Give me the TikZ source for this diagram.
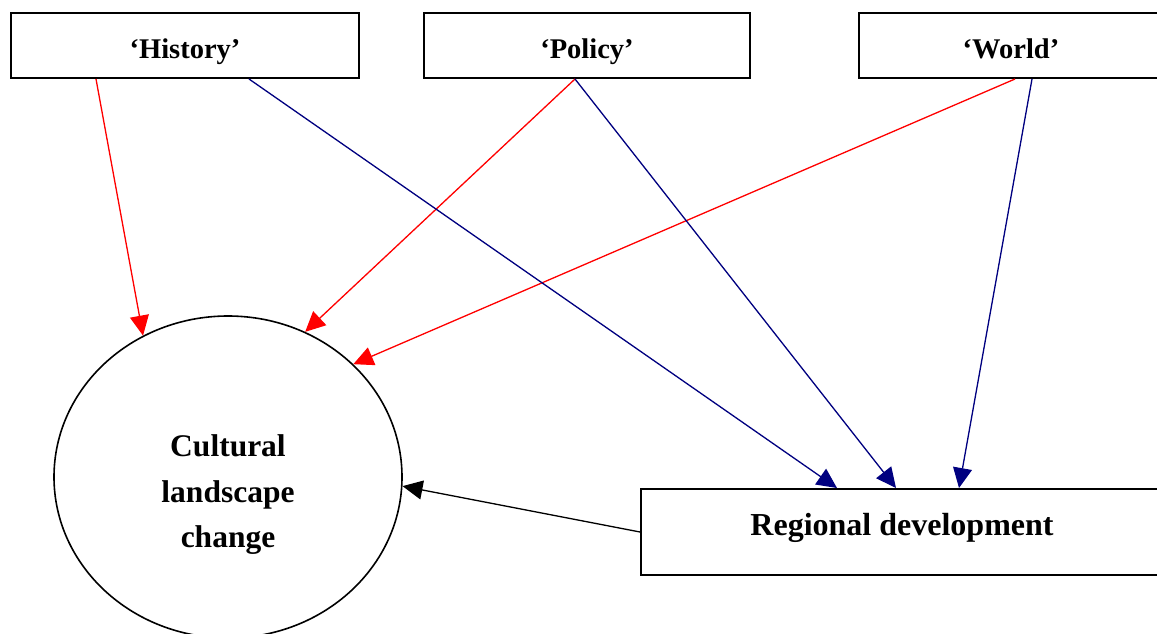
\documentclass[tikz,border=0pt]{standalone}
\usepackage{fontspec}
\setmainfont{Liberation Serif}
\usetikzlibrary{arrows.meta,shapes.geometric}

\definecolor{linkred}{RGB}{255,0,0}
\definecolor{linkblue}{RGB}{0,0,128}

\tikzset{
  box/.style={draw=black, line width=2pt, fill=white, rectangle, inner sep=0pt},
  topfont/.style={font=\fontsize{28.5}{34}\selectfont\bfseries},
  bigfont/.style={font=\fontsize{31.5}{45.5}\selectfont\bfseries},
  regfont/.style={font=\fontsize{32}{38}\selectfont\bfseries},
  link/.style={line width=1.3pt, -{Triangle[length=20pt,width=19pt]}},
  redlink/.style={link, draw=linkred, fill=linkred},
  bluelink/.style={link, draw=linkblue, fill=linkblue},
  blacklink/.style={link, draw=black, fill=black},
}

\begin{document}
\begin{tikzpicture}[x=1pt, y=-1pt]
  \useasboundingbox (0,0) rectangle (1157,634);
  \fill[white] (0,0) rectangle (1157,634);

  % the three driver boxes along the top
  \node[box, topfont, minimum width=348pt, minimum height=65pt,
        text height=27pt, text depth=0pt] (hist) at (185,45.5) {‘History’};
  \node[box, topfont, minimum width=326pt, minimum height=65pt,
        text height=27pt, text depth=0pt] (pol) at (587,45.5) {‘Policy’};
  \node[box, topfont, minimum width=304pt, minimum height=65pt,
        text height=27pt, text depth=0pt] (world) at (1011,45.5) {‘World’};

  % regional development box
  \node[box, minimum width=524pt, minimum height=86pt] (reg) at (903,532) {};
  \node[regfont, anchor=base] (regtext) at (902,535) {Regional development};

  % cultural landscape ellipse
  \node[draw=black, line width=1.6pt, ellipse, inner sep=0pt,
        minimum width=348pt, minimum height=322pt] (clc) at (228,477) {};
  \node[bigfont, align=center] (clctext) at (228,495)
        {Cultural\\landscape\\change};

  % influences on landscape change
  \draw[redlink] ([xshift=86pt]hist.south west) -- (clc.121.7);
  \draw[redlink] ([xshift=152pt]pol.south west) -- (clc.62.6);
  \draw[redlink] ([xshift=157pt]world.south west) -- (clc.42.1);

  % influences on regional development
  \draw[bluelink] ([xshift=239pt]hist.south west) -- ([xshift=197pt]reg.north west);
  \draw[bluelink] ([xshift=152pt]pol.south west) -- ([xshift=256pt]reg.north west);
  \draw[bluelink] ([xshift=174pt]world.south west) -- ([xshift=319pt]reg.north west);

  % feedback from regional development
  \draw[blacklink] (reg.west) -- (clc.-3.9);
\end{tikzpicture}
\end{document}
